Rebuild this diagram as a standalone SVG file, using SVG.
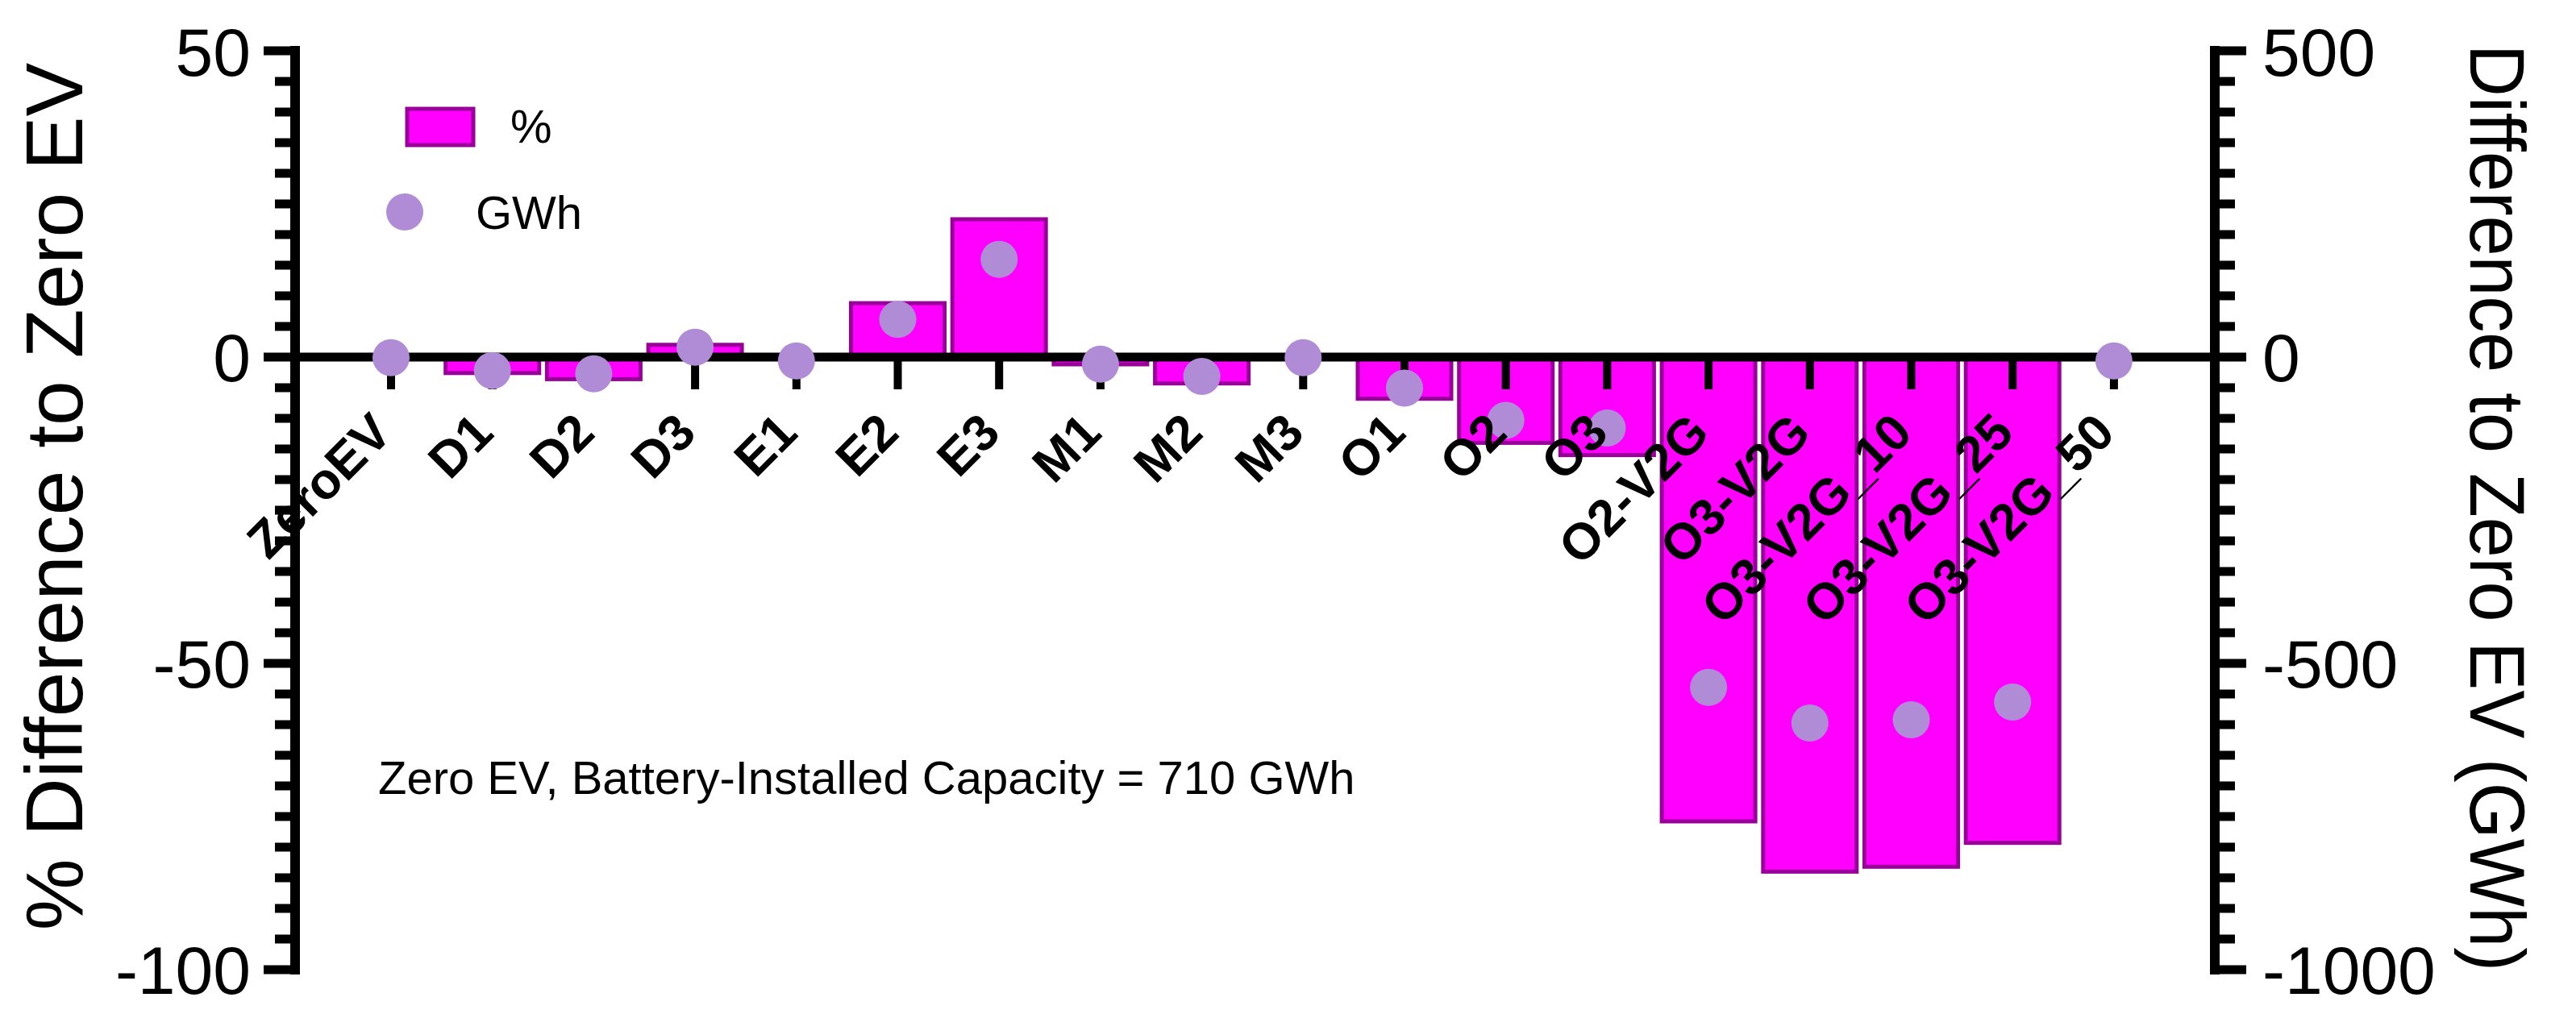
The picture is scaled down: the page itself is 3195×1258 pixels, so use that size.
<svg xmlns="http://www.w3.org/2000/svg" width="3195" height="1258" viewBox="0 0 3195 1258">
<style>
.bar{fill:#ff00ff;stroke:#990099;stroke-width:5}
.dot{fill:#b08cd6}
.ax{stroke:#000;fill:none}
.lab{font-family:"Liberation Sans",Arial,sans-serif;font-weight:bold;font-size:63px;text-anchor:end}
.t{font-family:"Liberation Sans",Arial,sans-serif;fill:#000}
</style>
<rect width="3195" height="1258" fill="#fff"/>
<g id="bars">
<rect class="bar" x="552.7" y="443" width="116" height="19.8"/>
<rect class="bar" x="678.4" y="443" width="116" height="27.4"/>
<rect class="bar" x="804.1" y="427.8" width="116" height="15.2"/>
<rect class="bar" x="1055.5" y="376.1" width="116" height="66.9"/>
<rect class="bar" x="1181.2" y="272" width="116" height="171"/>
<rect class="bar" x="1306.9" y="443" width="116" height="9"/>
<rect class="bar" x="1432.6" y="443" width="116" height="32.7"/>
<rect class="bar" x="1684" y="443" width="116" height="51.7"/>
<rect class="bar" x="1809.7" y="443" width="116" height="106.4"/>
<rect class="bar" x="1935.4" y="443" width="116" height="121.6"/>
<rect class="bar" x="2061.1" y="443" width="116" height="576"/>
<rect class="bar" x="2186.8" y="443" width="116" height="638.4"/>
<rect class="bar" x="2312.5" y="443" width="116" height="632.3"/>
<rect class="bar" x="2438.2" y="443" width="116" height="602.7"/>
</g>
<g id="axes">
<path class="ax" stroke-width="12" d="M366 57V1209M2747 57V1209"/>
<path class="ax" stroke-width="11" d="M366 443H2747"/>
<path class="ax" stroke-width="11" d="M327 63H366M341 101H366M341 139H366M341 177H366M341 215H366M341 253H366M341 291H366M341 329H366M341 367H366M341 405H366M327 443H366M341 481H366M341 519H366M341 557H366M341 595H366M341 633H366M341 671H366M341 709H366M341 747H366M341 785H366M327 823H366M341 861H366M341 899H366M341 937H366M341 975H366M341 1013H366M341 1051H366M341 1089H366M341 1127H366M341 1165H366M327 1203H366"/>
<path class="ax" stroke-width="11" d="M2747 63H2786M2747 101H2772M2747 139H2772M2747 177H2772M2747 215H2772M2747 253H2772M2747 291H2772M2747 329H2772M2747 367H2772M2747 405H2772M2747 443H2786M2747 481H2772M2747 519H2772M2747 557H2772M2747 595H2772M2747 633H2772M2747 671H2772M2747 709H2772M2747 747H2772M2747 785H2772M2747 823H2786M2747 861H2772M2747 899H2772M2747 937H2772M2747 975H2772M2747 1013H2772M2747 1051H2772M2747 1089H2772M2747 1127H2772M2747 1165H2772M2747 1203H2786"/>
<path class="ax" stroke-width="10" d="M485 443V483M610.7 443V483M736.4 443V483M862.1 443V483M987.8 443V483M1113.5 443V483M1239.2 443V483M1364.9 443V483M1490.6 443V483M1616.3 443V483M1742 443V483M1867.7 443V483M1993.4 443V483M2119.1 443V483M2244.8 443V483M2370.5 443V483M2496.2 443V483M2621.9 443V483"/>
</g>
<g id="dots">
<circle class="dot" cx="485" cy="443.7" r="23"/>
<circle class="dot" cx="610.7" cy="459.7" r="23"/>
<circle class="dot" cx="736.4" cy="463.7" r="23"/>
<circle class="dot" cx="862.1" cy="430.8" r="23"/>
<circle class="dot" cx="987.8" cy="447.7" r="23"/>
<circle class="dot" cx="1113.5" cy="396.3" r="23"/>
<circle class="dot" cx="1239.2" cy="321.7" r="23"/>
<circle class="dot" cx="1364.9" cy="451.7" r="23"/>
<circle class="dot" cx="1490.6" cy="467" r="23"/>
<circle class="dot" cx="1616.3" cy="443.7" r="23"/>
<circle class="dot" cx="1742" cy="481.4" r="23"/>
<circle class="dot" cx="1867.7" cy="521.5" r="23"/>
<circle class="dot" cx="1993.4" cy="531.1" r="23"/>
<circle class="dot" cx="2119.1" cy="852.8" r="23"/>
<circle class="dot" cx="2244.8" cy="897" r="23"/>
<circle class="dot" cx="2370.5" cy="893" r="23"/>
<circle class="dot" cx="2496.2" cy="871" r="23"/>
<circle class="dot" cx="2621.9" cy="447.7" r="23"/>
</g>
<g id="xlabels">
<text class="lab" transform="translate(489,540) rotate(-45)">ZeroEV</text>
<text class="lab" transform="translate(614.7,540) rotate(-45)">D1</text>
<text class="lab" transform="translate(740.4,540) rotate(-45)">D2</text>
<text class="lab" transform="translate(866.1,540) rotate(-45)">D3</text>
<text class="lab" transform="translate(991.8,540) rotate(-45)">E1</text>
<text class="lab" transform="translate(1117.5,540) rotate(-45)">E2</text>
<text class="lab" transform="translate(1243.2,540) rotate(-45)">E3</text>
<text class="lab" transform="translate(1368.9,540) rotate(-45)">M1</text>
<text class="lab" transform="translate(1494.6,540) rotate(-45)">M2</text>
<text class="lab" transform="translate(1620.3,540) rotate(-45)">M3</text>
<text class="lab" transform="translate(1746,540) rotate(-45)">O1</text>
<text class="lab" transform="translate(1871.7,540) rotate(-45)">O2</text>
<text class="lab" transform="translate(1997.4,540) rotate(-45)">O3</text>
<text class="lab" transform="translate(2123.1,540) rotate(-45)">O2-V2G</text>
<text class="lab" transform="translate(2248.8,540) rotate(-45)">O3-V2G</text>
<text class="lab" transform="translate(2374.5,540) rotate(-45)">O3-V2G_10</text>
<text class="lab" transform="translate(2500.2,540) rotate(-45)">O3-V2G_25</text>
<text class="lab" transform="translate(2625.9,540) rotate(-45)">O3-V2G_50</text>
</g>
<g id="yticks" class="t" font-size="84">
<text x="311" y="94" text-anchor="end">50</text>
<text x="311" y="473" text-anchor="end">0</text>
<text x="311" y="853" text-anchor="end">-50</text>
<text x="311" y="1233" text-anchor="end">-100</text>
<text x="2806" y="94">500</text>
<text x="2806" y="473">0</text>
<text x="2806" y="853">-500</text>
<text x="2806" y="1233">-1000</text>
</g>
<g id="titles" class="t" font-size="96">
<text transform="translate(102,616) rotate(-90)" font-size="100" text-anchor="middle">% Difference to Zero EV</text>
<text transform="translate(3064,630) rotate(90)" text-anchor="middle" textLength="1150" lengthAdjust="spacingAndGlyphs">Difference to Zero EV (GWh)</text>
</g>
<g id="legend">
<rect class="bar" x="505" y="135" width="82" height="45"/>
<text class="t" x="633" y="177" font-size="58">%</text>
<circle class="dot" cx="502" cy="263" r="23"/>
<text class="t" x="590" y="284" font-size="58">GWh</text>
</g>
<g id="note">
<text class="t" x="469" y="985" font-size="58">Zero EV, Battery-Installed Capacity = 710 GWh</text>
</g>
</svg>
